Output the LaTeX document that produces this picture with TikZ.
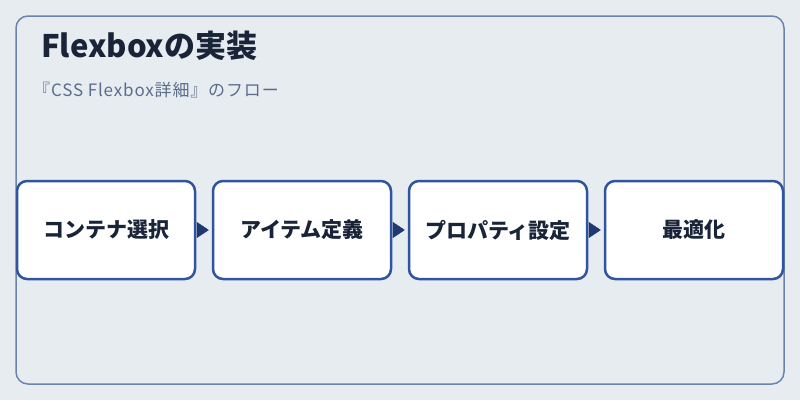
\documentclass[tikz,border=0pt]{standalone}
\usepackage{fontspec}
\setmainfont{Noto Sans CJK JP}
\usetikzlibrary{arrows.meta}
\definecolor{bgfill}{HTML}{E7ECF1}
\definecolor{framecol}{HTML}{6B84AE}
\definecolor{boxcol}{HTML}{2F54A0}
\definecolor{ink}{HTML}{1A2438}
\definecolor{subink}{HTML}{5A6D8C}
\definecolor{tipcol}{HTML}{1F3A70}
\tikzset{
  stepbox/.style={draw=boxcol,line width=2.5pt,fill=white,rounded corners=10pt,
    minimum width=178pt,minimum height=98pt,text=ink,font=\fontsize{21}{24}\selectfont\bfseries},
  flow/.style={tipcol,line width=0.4pt,shorten <=3pt,shorten >=3pt,-{Triangle[length=12pt,width=16pt]}}
}
\begin{document}
\begin{tikzpicture}[x=1pt,y=-1pt]
  \fill[bgfill] (0,0) rectangle (800,400);
  \useasboundingbox (0,0) rectangle (800,400);
  \draw[framecol,line width=1.5pt,rounded corners=12pt] (16,16) rectangle (784,384);
  \node[anchor=base west,text=ink,font=\fontsize{31}{36}\selectfont\bfseries,inner sep=0] (title) at (41,57) {Flexboxの実装};
  \node[anchor=base west,text=subink,font=\fontsize{17}{20}\selectfont\addfontfeature{LetterSpace=5},inner sep=0] (sub) at (33,96) {『CSS Flexbox詳細』のフロー};
  % steps
  \foreach \i/\x/\t in {1/106/コンテナ選択,2/302/アイテム定義,3/498/プロパティ設定,4/694/最適化}
    \node[stepbox] (b\i) at (\x,230) {\t};
  \foreach \i/\j in {1/2,2/3,3/4}
    \draw[flow] (b\i.east) -- (b\j.west);
\end{tikzpicture}
\end{document}
